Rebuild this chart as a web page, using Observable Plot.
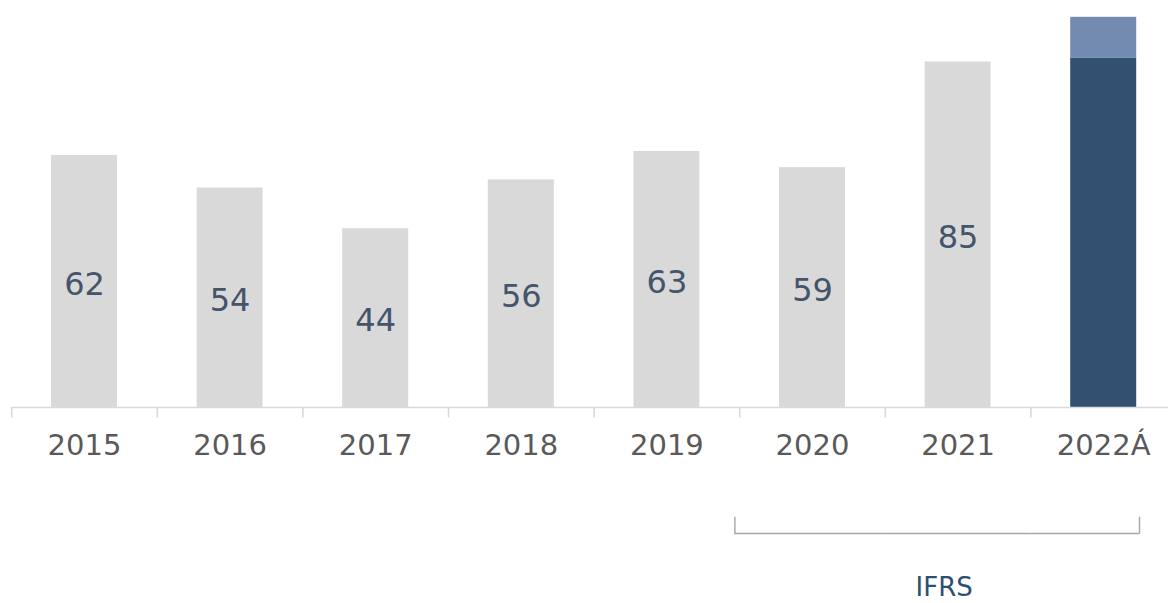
<!DOCTYPE html>
<html>
<head>
<meta charset="utf-8">
<script src="https://cdn.jsdelivr.net/npm/d3@7"></script>
<script src="https://cdn.jsdelivr.net/npm/@observablehq/plot@0.6"></script>
<style>
  html, body { margin: 0; padding: 0; background: #ffffff; }
  #chart svg { display: block; }
</style>
</head>
<body>
<div id="chart"></div>
<script>
const years = ["2015", "2016", "2017", "2018", "2019", "2020", "2021", "2022Á"];
const baseValues = [62, 54, 44, 56, 63, 59, 85, 86];
const extraValues = [0, 0, 0, 0, 0, 0, 0, 10];
const valueLabels = ["62", "54", "44", "56", "63", "59", "85", ""];
const barColors = ["#d9d9d9", "#d9d9d9", "#d9d9d9", "#d9d9d9", "#d9d9d9", "#d9d9d9", "#d9d9d9", "#32506f"];
const bracketLabel = "IFRS";
const bracketFrom = "2020";
const bracketMid = "2021";
const bracketTo = "2022Á";

const rows = years.map((y, i) => ({year: y, base: baseValues[i], extra: extraValues[i], label: valueLabels[i], color: barColors[i]}));
const extraRows = rows.filter(d => d.extra > 0);

const font = "DejaVu Sans, Verdana, sans-serif";

const plot = Plot.plot({
  width: 1168,
  height: 603,
  marginLeft: 11,
  marginRight: 0,
  marginTop: 0,
  marginBottom: 0,
  style: {background: "#ffffff", fontFamily: font, overflow: "visible"},
  x: {type: "band", domain: years, range: [11.2, 1176.0], padding: 0, round: false, axis: null},
  y: {domain: [0, 100], range: [407, 0.55], axis: null},
  marks: [
    Plot.barY(rows, {x: "year", y: "base", fill: "color", insetLeft: 39.8, insetRight: 39.8}),
    Plot.barY(extraRows, {x: "year", y1: "base", y2: d => d.base + d.extra, fill: "#738bb0", insetLeft: 39.8, insetRight: 39.8}),
    Plot.ruleY([0], {stroke: "#d9d9d9", strokeWidth: 1.6}),
    Plot.ruleX(years, {x: d => d, dx: -72.8, y1: 0, y2: -2.6, stroke: "#d9d9d9", strokeWidth: 1.6}),
    Plot.text(rows, {x: "year", y: d => d.base / 2, text: "label", dy: 3, fontSize: 32, fill: "#44546a"}),
    Plot.text(years, {x: d => d, y: 0, text: d => d, dy: 38, fontSize: 29, fill: "#595959"}),
    // IFRS bracket
    Plot.tickY([bracketFrom], {x: d => d, y: -31, insetLeft: -5, stroke: "#a6a6a6", strokeWidth: 1.4}),
    Plot.tickY([bracketMid], {x: d => d, y: -31, stroke: "#a6a6a6", strokeWidth: 1.4}),
    Plot.tickY([bracketTo], {x: d => d, y: -31, insetRight: 37, stroke: "#a6a6a6", strokeWidth: 1.4}),
    Plot.ruleX([bracketFrom], {x: d => d, dx: -77.6, y1: -27, y2: -31.2, stroke: "#a6a6a6", strokeWidth: 1.4}),
    Plot.ruleX([bracketTo], {x: d => d, dx: 35.8, y1: -27, y2: -31.2, stroke: "#a6a6a6", strokeWidth: 1.4}),
    Plot.text([bracketLabel], {x: () => bracketMid, y: -44.3, text: d => d, dx: -14, fontSize: 26, fill: "#2e4f74"})
  ]
});
document.getElementById("chart").appendChild(plot);
</script>
</body>
</html>
